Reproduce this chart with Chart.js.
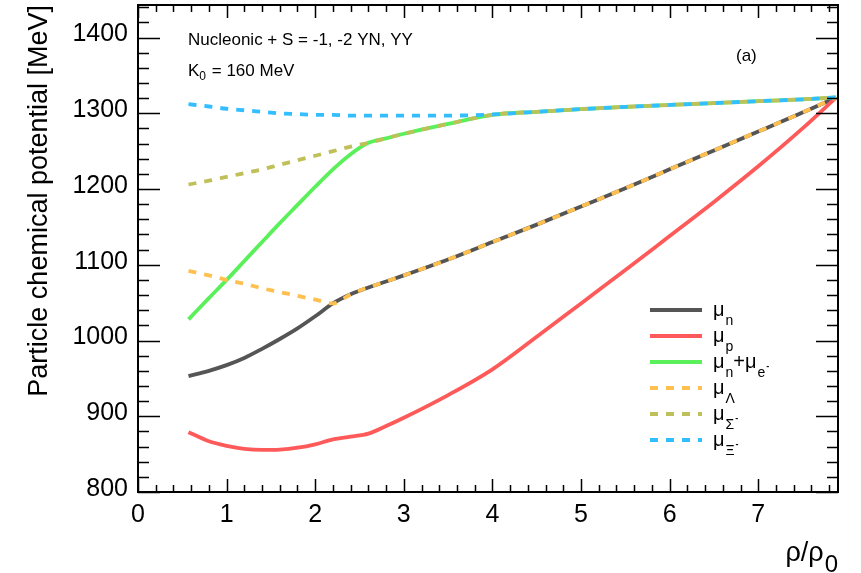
<!DOCTYPE html>
<html>
<head>
<meta charset="utf-8">
<script src="https://cdn.jsdelivr.net/npm/chart.js@4.4.1/dist/chart.umd.min.js"></script>
<style>
html, body { margin: 0; padding: 0; background: #fff; }
</style>
</head>
<body>
<canvas id="chart" width="861" height="573"></canvas>
<script>
// density grid rho/rho0
const rho = [0.57, 0.8, 1.0, 1.2, 1.4, 1.6, 1.8, 2.0, 2.2, 2.4, 2.6, 2.8, 3.0, 3.5, 4.0, 4.5, 5.0, 5.5, 6.0, 6.5, 7.0, 7.5, 7.88];

// chemical potentials [MeV]
const muN      = [953, 960, 967.5, 977, 989, 1002, 1016, 1032, 1049, 1061, 1070, 1078, 1086, 1107, 1130, 1153, 1177, 1201, 1226, 1251, 1276, 1301, 1321];
const muP      = [879, 867, 861, 857, 855.5, 856, 858.5, 863, 869.5, 873, 877, 887, 898, 928, 962, 1005, 1049, 1093, 1138, 1183, 1230, 1280, 1321];
const muNE     = [1028, 1056, 1080, 1105, 1130, 1155, 1179, 1203, 1226, 1246, 1261, 1267, 1273, 1286, 1298, 1302, 1305.5, 1308.5, 1311, 1313.5, 1316, 1318.5, 1321];
const muLambda = [1092, 1086, 1080, 1075, 1069, 1064, 1059, 1054, 1049, 1061, 1070, 1078, 1086, 1107, 1130, 1153, 1177, 1201, 1226, 1251, 1276, 1301, 1321];
const muSigma  = [1206, 1211, 1216, 1221, 1226, 1232, 1238, 1244, 1250, 1256, 1261, 1267, 1273, 1286, 1298, 1302, 1305.5, 1308.5, 1311, 1313.5, 1316, 1318.5, 1321];
const muXi     = [1312, 1309, 1306, 1304, 1302, 1300, 1299, 1298, 1298, 1297, 1297, 1297, 1297, 1297, 1298.5, 1302, 1305.5, 1308.5, 1311, 1313.5, 1316, 1318.5, 1321];

const xTicks = [0, 1, 2, 3, 4, 5, 6, 7];
const yTicks = [800, 900, 1000, 1100, 1200, 1300, 1400];

const xTitle = ['ρ/ρ', '0'];
const yTitle = 'Particle chemical potential [MeV]';
const infoLine1 = 'Nucleonic + S = -1, -2 YN, YY';
const infoLine2 = ['K', '0', ' = 160 MeV'];
const panelTag = '(a)';

// legend labels: [text, kind]
const legendLabels = [
  [['μ', 'n'], ['n', 'sub']],
  [['μ', 'n'], ['p', 'sub']],
  [['μ', 'n'], ['n', 'sub'], ['+μ', 'n'], ['e', 'sub'], ['-', 'sup']],
  [['μ', 'n'], ['Λ', 'sub']],
  [['μ', 'n'], ['Σ', 'sub'], ['-', 'sup']],
  [['μ', 'n'], ['Ξ', 'sub'], ['-', 'sup']]
];

const FONT = '"Liberation Sans", Arial, Helvetica, sans-serif';

function pts(ys) { return rho.map((x, i) => ({ x: x, y: ys[i] })); }

function ds(ys, color, dashed, order, offset) {
  return {
    data: pts(ys),
    borderColor: color,
    backgroundColor: color,
    borderWidth: 3.8,
    borderDash: dashed ? [8, 8] : [],
    borderDashOffset: offset || 0,
    pointRadius: 0,
    fill: false,
    cubicInterpolationMode: 'monotone',
    order: order
  };
}

const frameTicks = {
  id: 'frameTicks',
  afterDatasetsDraw(chart) {
    const { ctx, chartArea: a, scales: { x, y } } = chart;
    ctx.save();
    ctx.strokeStyle = '#000';
    ctx.lineWidth = 1.5;
    ctx.beginPath();
    for (let v = 0; v <= 7.9 + 1e-6; v += 0.2) {
      const major = Math.abs(v - Math.round(v)) < 1e-6;
      const len = major ? 13 : 7;
      const px = Math.round(x.getPixelForValue(v)) + 0.5;
      ctx.moveTo(px, a.bottom); ctx.lineTo(px, a.bottom - len);
      ctx.moveTo(px, a.top); ctx.lineTo(px, a.top + len);
    }
    for (let v = 800; v <= 1443; v += 20) {
      const major = v % 100 === 0;
      const len = major ? 22 : 11;
      const py = Math.round(y.getPixelForValue(v)) + 0.5;
      ctx.moveTo(a.left, py); ctx.lineTo(a.left + len, py);
      ctx.moveTo(a.right, py); ctx.lineTo(a.right - len, py);
    }
    ctx.stroke();
    ctx.lineWidth = 2;
    ctx.strokeRect(a.left, a.top, a.right - a.left, a.bottom - a.top);

    // texts
    ctx.fillStyle = '#000';
    ctx.textBaseline = 'alphabetic';
    ctx.textAlign = 'left';
    ctx.font = '17px ' + FONT;
    ctx.fillText(infoLine1, 188, 45);
    ctx.fillText(infoLine2[0], 188, 76);
    let w = ctx.measureText(infoLine2[0]).width;
    ctx.font = '12px ' + FONT;
    ctx.fillText(infoLine2[1], 188 + w, 80);
    w += ctx.measureText(infoLine2[1]).width;
    ctx.font = '17px ' + FONT;
    ctx.fillText(infoLine2[2], 188 + w + 1, 76);
    ctx.fillText(panelTag, 736, 61);

    // y title
    ctx.save();
    ctx.translate(47, 5);
    ctx.rotate(-Math.PI / 2);
    ctx.textAlign = 'right';
    ctx.font = '27px ' + FONT;
    ctx.fillText(yTitle, 0, 0);
    ctx.restore();

    // x title
    ctx.font = '24px ' + FONT;
    const subW = ctx.measureText(xTitle[1]).width;
    ctx.textAlign = 'right';
    ctx.fillText(xTitle[1], 838, 572);
    ctx.font = '27px ' + FONT;
    ctx.fillText(xTitle[0], 838 - subW - 1, 561);

    // legend
    ctx.textAlign = 'left';
    const rows = [310, 336, 362, 388, 414, 440];
    chart.data.datasets.forEach((d, i) => {
      const ry = rows[i];
      ctx.save();
      ctx.strokeStyle = d.borderColor;
      ctx.lineWidth = 4;
      ctx.setLineDash(d.borderDash);
      ctx.beginPath();
      ctx.moveTo(650, ry); ctx.lineTo(702, ry);
      ctx.stroke();
      ctx.restore();
      let tx = 713;
      legendLabels[i].forEach(([t, k]) => {
        if (k === 'n') { ctx.font = '20px ' + FONT; ctx.fillText(t, tx, ry + 6); }
        else if (k === 'sub') { ctx.font = '14px ' + FONT; ctx.fillText(t, tx + 1, ry + 15); tx += 1; }
        else { ctx.font = 'bold 9px ' + FONT; ctx.fillText(t, tx + 1, ry + 7); tx += 1; }
        tx += ctx.measureText(t).width;
      });
    });
    ctx.restore();
  }
};

new Chart(document.getElementById('chart'), {
  type: 'line',
  data: {
    datasets: [
      ds(muN, 'rgb(85,85,85)', false, 5),
      ds(muP, 'rgb(255,90,90)', false, 4),
      ds(muNE, 'rgb(90,240,90)', false, 3),
      ds(muLambda, 'rgb(255,192,80)', true, 2),
      ds(muSigma, 'rgb(192,192,90)', true, 1, 0),
      ds(muXi, 'rgb(51,190,255)', true, 0, 0)
    ]
  },
  options: {
    responsive: false,
    animation: false,
    devicePixelRatio: 1,
    layout: { padding: { top: 5, right: 23, left: 0, bottom: 0 } },
    plugins: { legend: { display: false }, tooltip: { enabled: false } },
    scales: {
      x: {
        type: 'linear', min: 0, max: 7.9,
        grid: { display: false, drawTicks: false },
        border: { display: false },
        ticks: { color: '#000', font: { family: FONT, size: 25 }, padding: 8, maxRotation: 0, callback: v => String(v) },
        afterBuildTicks: s => { s.ticks = xTicks.map(v => ({ value: v })); },
        afterFit: s => { s.height = 81; s.paddingLeft = 0; s.paddingRight = 0; }
      },
      y: {
        type: 'linear', min: 800, max: 1443,
        grid: { display: false, drawTicks: false },
        border: { display: false },
        ticks: { color: '#000', font: { family: FONT, size: 25 }, padding: 10, labelOffset: -3, callback: v => String(v) },
        afterBuildTicks: s => { s.ticks = yTicks.map(v => ({ value: v })); },
        afterFit: s => { s.width = 138; s.paddingTop = 0; s.paddingBottom = 0; }
      }
    }
  },
  plugins: [frameTicks]
});
</script>
</body>
</html>
